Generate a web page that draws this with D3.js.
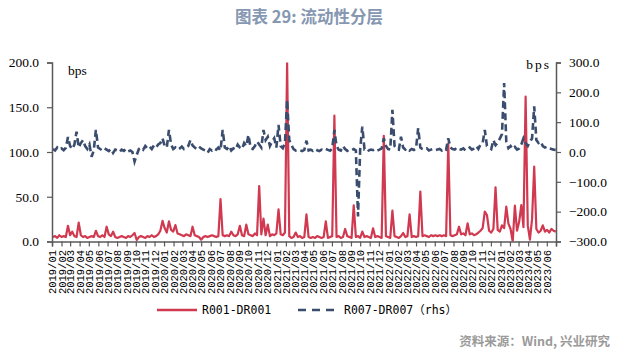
<!DOCTYPE html>
<html lang="zh">
<head>
<meta charset="UTF-8">
<title>图表 29: 流动性分层</title>
<script src="https://cdn.jsdelivr.net/npm/d3@7/dist/d3.min.js"></script>
<style>
  html, body { margin: 0; padding: 0; background: #fff; }
  svg { display: block; }
  .xlab { font-family: "Liberation Mono", "DejaVu Sans Mono", monospace; font-size: 10.5px; fill: #000; }
  .legend { font-family: "DejaVu Sans Mono", "Noto Sans CJK SC", monospace; font-size: 11.5px; fill: #000; }
</style>
</head>
<body>
<script>
// 周度数据，起始于 2019-01-04，每 7 天一个点
const firstWeek = "2019-01-04";

// R001-DR001 (bps, 左轴)
const r001 = [
  5, 6, 4, 7, 5, 6, 5, 17.6, 7, 11,
  6, 5, 21, 7, 5, 6, 4, 5, 6, 5,
  12, 6, 5, 7, 5, 16.5, 8, 6, 11, 5,
  4, 5, 6, 5, 4, 6, 5, 7, 9.5, 1.7,
  5, 6, 5, 4, 6, 5, 7, 5, 6, 8,
  12, 23, 15, 10, 22.5, 13, 11, 18.4, 9, 8,
  7, 6, 8, 7, 6, 16.5, 7, 6, 5, 2,
  5, 6, 5, 6, 7, 6, 5, 6, 47.5, 7,
  6, 7, 6, 11, 7, 6, 8, 17.6, 7, 6,
  18.8, 8, 7, 6, 9, 7, 62, 8, 25.5, 7,
  18.8, 6, 8, 7, 9, 36, 8, 7, 10, 200,
  6, 4, 5, 10, 5, 6, 4, 5, 30.4, 5,
  4, 5, 4, 6, 5, 4, 5, 22.5, 4, 5,
  6, 140.6, 5, 6, 4, 5, 14, 6, 5, 4,
  40.4, 5, 6, 4, 11, 5, 6, 5, 4, 14.7,
  5, 6, 5, 4, 118, 6, 5, 4, 34.5, 6,
  5, 4, 6, 9.5, 5, 6, 30.4, 5, 6, 5,
  6, 55.7, 6, 7, 6, 5, 7, 6, 7, 6,
  7, 6, 7, 6, 109.7, 7, 6, 7, 8, 16.5,
  8, 9, 7, 20.3, 8, 9, 7, 8, 10, 12,
  15, 33.3, 29.6, 12, 10, 14, 60.5, 13, 11, 18,
  15, 39, 20, 14, 0, 40, 12, 22, 40.8, 16,
  161.8, 18, 2, 25, 83.6, 14, 10, 12, 18, 11,
  13, 10, 14, 12, 11
];

// R007-DR007 (bps, 右轴)
const r007 = [
  10, 5, 15, 8, 12, 6, 14, 50, 20, 10,
  25, 68, 15, 30, 40, 20, 10, 25, -16, 5,
  74, 15, 10, 5, 12, 8, 3, 10, -3, 8,
  5, 0, 8, 4, 10, 2, 5, 0, -32, -10,
  10, 15, 8, 20, 12, 18, 10, 22, 15, 25,
  30, 46, 20, 15, 74, 25, 10, 15, 8, 12,
  18, 10, 15, 20, 40, 22, 15, 10, 18, 12,
  8, 5, -3, 10, 5, 12, 8, 15, 5, 74,
  15, 10, 20, 5, 12, 8, 25, 15, 10, 30,
  20, 57, 15, 10, 20, 35, 25, 15, 74, 40,
  51, 20, 35, 46, 15, 91, 20, 13, 30, 175,
  40, 23, 10, 5, 8, 6, 3, 7, 38, 5,
  8, 4, 10, 6, 3, 8, 5, 10, 7, 4,
  12, 74, 20, 8, 5, 20, 10, 4, 8, 6,
  10, 5, -216, 10, 85, 10, 13, 5, 8, 6,
  10, 5, 8, 12, 46, 20, 10, 8, 141, 20,
  10, 8, 51, 15, 8, 13, 5, 10, 7, 12,
  80, 15, 10, 8, 12, 5, 8, 10, 6, 8,
  10, 5, 12, 8, 46, 15, 10, 8, 15, 10,
  8, 12, 5, 10, 15, 8, 12, 20, 10, 25,
  30, 74, 20, 15, 10, 40, 23, 30, 45, 60,
  231, 35, 13, 20, 10, 17, 8, 12, 25, 46,
  30, 20, 35, 45, 153, 40, 30, 35, 20, 15,
  18, 12, 10, 8, 7
];

const leftTicks = [0, 50, 100, 150, 200];
const rightTicks = [-300, -200, -100, 0, 100, 200, 300];
const seriesNames = ["R001-DR001", "R007-DR007（rhs）"];
const colors = ["#d0394f", "#3b4d6e"];

const W = 617, H = 353;
const plotL = 52, plotR = 556, plotT = 62.5, plotB = 241.5;
const serif = "'Liberation Serif', 'DejaVu Serif', serif";

const svg = d3.select("body").append("svg")
  .attr("width", W)
  .attr("height", H);

// 标题
svg.append("text")
  .attr("x", 309).attr("y", 23)
  .attr("text-anchor", "middle")
  .style("font-family", "'Noto Sans CJK SC', sans-serif")
  .style("font-weight", "bold")
  .style("font-size", "16.5px")
  .style("fill", "#8597b1")
  .text("图表 29: 流动性分层");

const parse = d3.timeParse("%Y-%m-%d");
const start = parse(firstWeek);
const dates = r001.map((_, i) => d3.timeDay.offset(start, 7 * i));

const x = d3.scaleTime()
  .domain([parse("2019-01-01"), parse("2023-07-01")])
  .range([plotL, plotR]);
const yL = d3.scaleLinear().domain([0, 200]).range([plotB, plotT]);
const yR = d3.scaleLinear().domain([-300, 300]).range([plotB, plotT]);

svg.append("clipPath").attr("id", "plot")
  .append("rect")
  .attr("x", plotL).attr("y", plotT)
  .attr("width", plotR - plotL).attr("height", plotB - plotT);

const g = svg.append("g").attr("clip-path", "url(#plot)");

const lineL = d3.line().x((d, i) => x(dates[i])).y(d => yL(d));
const lineR = d3.line().x((d, i) => x(dates[i])).y(d => yR(d));

g.append("path")
  .datum(r001)
  .attr("d", lineL)
  .attr("fill", "none")
  .attr("stroke", colors[0])
  .attr("stroke-width", 2.2)
  .attr("stroke-linejoin", "round");

g.append("path")
  .datum(r007)
  .attr("d", lineR)
  .attr("fill", "none")
  .attr("stroke", colors[1])
  .attr("stroke-width", 2.6)
  .attr("stroke-dasharray", "7,4");

// 坐标轴
const axisColor = "#5a5a5a";

const monthTicks = d3.timeMonth.range(parse("2019-01-01"), parse("2023-07-02"));
const xAxis = svg.append("g")
  .attr("transform", `translate(0,${plotB})`)
  .call(d3.axisBottom(x).tickValues(monthTicks).tickSize(5).tickFormat(""));

const yAxisL = svg.append("g")
  .attr("transform", `translate(${plotL},0)`)
  .call(d3.axisLeft(yL).tickValues(leftTicks).tickSize(5).tickPadding(8).tickFormat(d3.format(".1f")));

const yAxisR = svg.append("g")
  .attr("transform", `translate(${plotR},0)`)
  .call(d3.axisRight(yR).tickValues(rightTicks).tickSize(5).tickPadding(8).tickFormat(d3.format(".1f")));

[xAxis, yAxisL, yAxisR].forEach(a => {
  a.attr("font-family", serif).attr("font-size", 13.5);
  a.select(".domain").attr("stroke", axisColor).attr("stroke-width", 1.5);
  a.selectAll(".tick line").attr("stroke", axisColor).attr("stroke-width", 1.2);
  a.selectAll("text").attr("fill", "#000");
});

// X 轴标签（竖排）
const fmt = d3.timeFormat("%Y/%m");
svg.append("g").selectAll("text")
  .data(monthTicks.slice(0, 54))
  .join("text")
  .attr("class", "xlab")
  .attr("transform", d => `translate(${x(d) + 0.5},250) rotate(-90)`)
  .attr("text-anchor", "end")
  .attr("dy", "0.35em")
  .text(d => fmt(d));

// 单位
svg.append("text")
  .attr("x", 68).attr("y", 75)
  .style("font-family", serif).style("font-size", "13.5px")
  .text("bps");
svg.append("text")
  .attr("x", 551).attr("y", 69)
  .attr("text-anchor", "end")
  .style("font-family", serif).style("font-size", "13.5px")
  .style("letter-spacing", "2px")
  .text("bps");

// 图例
const legend = svg.append("g");
legend.append("line")
  .attr("x1", 157).attr("x2", 197).attr("y1", 310).attr("y2", 310)
  .attr("stroke", colors[0]).attr("stroke-width", 2.5);
legend.append("text").attr("class", "legend")
  .attr("x", 202).attr("y", 314).text(seriesNames[0]);
legend.append("line")
  .attr("x1", 298).attr("x2", 340).attr("y1", 310).attr("y2", 310)
  .attr("stroke", colors[1]).attr("stroke-width", 2.5)
  .attr("stroke-dasharray", "8,6");
legend.append("text").attr("class", "legend")
  .attr("x", 344).attr("y", 314).text(seriesNames[1]);

// 资料来源
svg.append("text")
  .attr("x", 610).attr("y", 346)
  .attr("text-anchor", "end")
  .style("font-family", "'Noto Sans CJK SC', sans-serif")
  .style("font-weight", "bold")
  .style("font-size", "12.5px")
  .style("fill", "#9a9a9a")
  .text("资料来源：Wind, 兴业研究");
</script>
</body>
</html>
